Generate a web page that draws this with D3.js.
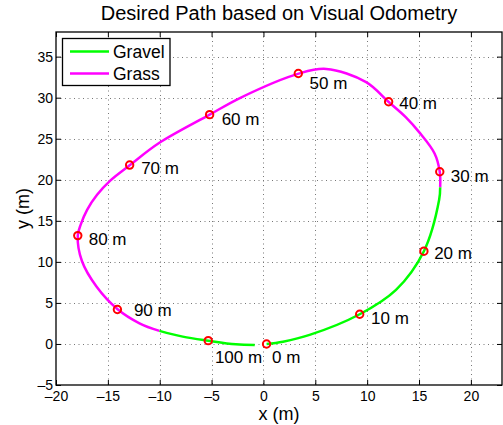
<!DOCTYPE html>
<html>
<head>
<meta charset="utf-8">
<script src="https://cdn.jsdelivr.net/npm/d3@7"></script>
<style>
  html, body { margin: 0; padding: 0; background: #fff; }
  svg { display: block; font-family: "Liberation Sans", Arial, Helvetica, sans-serif; }
</style>
</head>
<body>
<svg id="chart" width="503" height="425"></svg>
<script>
// ---- data (x, y in metres) ----
const gravelOut = [[0.3,0],[1.88,0.28],[4.45,1.1],[9.28,3.62],[12.78,6.59],[15.47,11.3],[16.94,17.56],[17.04,19.1]];
const grassPath = [[17.04,19.1],[17.0,20.98],[16.5,23.2],[15.01,25.8],[13.74,27.6],[12.05,29.5],[9.9,31.9],[6.05,33.5],[3.39,32.93],[-2.27,29.96],[-5.19,27.93],[-10.03,24.5],[-12.87,21.79],[-14.77,19.9],[-16.04,18.17],[-17.0,16.34],[-17.6,14.6],[-17.9,13.2],[-17.5,10.1],[-16.1,7.0],[-14.06,4.23],[-11.95,2.52],[-10.03,1.59]];
const gravelBack = [[-10.03,1.59],[-7.78,0.89],[-5.32,0.4],[-2.66,-0.04],[-0.84,-0.12]];

const markerX = [0.3, 9.28, 15.47, 17.0, 12.07, 3.36, -5.19, -12.9, -17.9, -14.08, -5.32];
const markerY = [0, 3.62, 11.3, 20.98, 29.5, 32.95, 27.93, 21.79, 13.2, 4.2, 0.4];
const labelText = ["0 m","10 m","20 m","30 m","40 m","50 m","60 m","70 m","80 m","90 m","100 m"];
const labelX = [0.83, 10.37, 16.46, 18.06, 13.09, 4.45, -4.03, -11.79, -16.85, -12.49, -4.68];
const labelY = [-1.55, 3.13, 11.06, 20.49, 29.35, 31.79, 27.44, 21.43, 12.77, 4.15, -1.55];

const xTicks = [-20,-15,-10,-5,0,5,10,15,20];
const yTicks = [-5,0,5,10,15,20,25,30,35];
const xDomain = [-20, 23];
const yDomain = [-5, 38];

const legendItems = ["Gravel", "Grass"];
const legendColors = ["#00ff00", "#ff00ff"];

const titleText = "Desired Path based on Visual Odometry";
const xLabel = "x (m)";
const yLabel = "y (m)";

// ---- layout ----
const L = 56, R = 502, T = 32, B = 385;
const svg = d3.select("#chart");
svg.append("rect").attr("width", 503).attr("height", 425).attr("fill", "#fff");

const x = d3.scaleLinear().domain(xDomain).range([L, R]);
const y = d3.scaleLinear().domain(yDomain).range([B, T]);

const fmt = d => (d < 0 ? "\u2013" + Math.abs(d) : String(d));

// grid
const grid = svg.append("g").attr("stroke", "#777").attr("stroke-width", 1).attr("stroke-dasharray", "1,3.5");
grid.selectAll("line.gx").data(xTicks.filter(d => d > xDomain[0] && d < xDomain[1])).enter()
  .append("line").attr("x1", d => Math.round(x(d)) + 0.5).attr("x2", d => Math.round(x(d)) + 0.5)
  .attr("y1", T).attr("y2", B);
grid.selectAll("line.gy").data(yTicks.filter(d => d > yDomain[0] && d < yDomain[1])).enter()
  .append("line").attr("y1", d => Math.round(y(d)) + 0.5).attr("y2", d => Math.round(y(d)) + 0.5)
  .attr("x1", L).attr("x2", R);

// axes (inward ticks on all sides)
const axB = svg.append("g").attr("transform", `translate(0,${B})`)
  .call(d3.axisBottom(x).tickValues(xTicks).tickSize(-5).tickPadding(6).tickFormat(fmt));
const axT = svg.append("g").attr("transform", `translate(0,${T})`)
  .call(d3.axisTop(x).tickValues(xTicks).tickSize(-5).tickFormat(""));
const axL = svg.append("g").attr("transform", `translate(${L},0)`)
  .call(d3.axisLeft(y).tickValues(yTicks).tickSize(-5).tickPadding(3).tickFormat(fmt));
const axRt = svg.append("g").attr("transform", `translate(${R},0)`)
  .call(d3.axisRight(y).tickValues(yTicks).tickSize(-5).tickFormat(""));
[axB, axT, axL, axRt].forEach(g => {
  g.select(".domain").remove();
  g.selectAll("line").attr("stroke", "#000");
  g.selectAll("text").attr("fill", "#000").style("font-size", "14px")
   .style("font-family", "'Liberation Sans', Arial, sans-serif");
});

// frame
svg.append("rect").attr("x", L).attr("y", T).attr("width", R - L).attr("height", B - T)
  .attr("fill", "none").attr("stroke", "#000").attr("stroke-width", 1.3);

// path
const line = d3.line().x(d => x(d[0])).y(d => y(d[1])).curve(d3.curveCatmullRom.alpha(0.5));
const segs = [[gravelOut, legendColors[0]], [grassPath, legendColors[1]], [gravelBack, legendColors[0]]];
svg.append("g").selectAll("path").data(segs).enter().append("path")
  .attr("d", d => line(d[0])).attr("fill", "none").attr("stroke", d => d[1])
  .attr("stroke-width", 2.5).attr("stroke-linejoin", "round");

// markers
const mk = markerX.map((v, i) => [v, markerY[i]]);
svg.append("g").selectAll("circle").data(mk).enter().append("circle")
  .attr("cx", d => x(d[0])).attr("cy", d => y(d[1])).attr("r", 3.7)
  .attr("fill", "none").attr("stroke", "#ff0000").attr("stroke-width", 2);

// labels
svg.append("g").selectAll("text").data(labelText).enter().append("text")
  .attr("x", (d, i) => x(labelX[i])).attr("y", (d, i) => y(labelY[i]))
  .attr("dy", "0.35em").style("font-size", "17px").attr("fill", "#000").text(d => d);

// legend
const lg = svg.append("g");
lg.append("rect").attr("x", 62.5).attr("y", 38.5).attr("width", 107.5).attr("height", 47)
  .attr("fill", "#fff").attr("stroke", "#000").attr("stroke-width", 1.3);
legendItems.forEach((name, i) => {
  const ly = 51.5 + i * 22;
  lg.append("line").attr("x1", 70).attr("x2", 109).attr("y1", ly).attr("y2", ly)
    .attr("stroke", legendColors[i]).attr("stroke-width", 2.5);
  lg.append("text").attr("x", 113).attr("y", ly).attr("dy", "0.35em")
    .style("font-size", "17.5px").attr("fill", "#000").text(name);
});

// title and axis labels
svg.append("text").attr("x", (L + R) / 2).attr("y", 20).attr("text-anchor", "middle")
  .style("font-size", "20px").attr("fill", "#000").text(titleText);
svg.append("text").attr("x", (L + R) / 2).attr("y", 420).attr("text-anchor", "middle")
  .style("font-size", "18px").attr("fill", "#000").text(xLabel);
svg.append("text").attr("transform", `translate(29,${(T + B) / 2}) rotate(-90)`)
  .attr("text-anchor", "middle").style("font-size", "18px").attr("fill", "#000").text(yLabel);
</script>
</body>
</html>
